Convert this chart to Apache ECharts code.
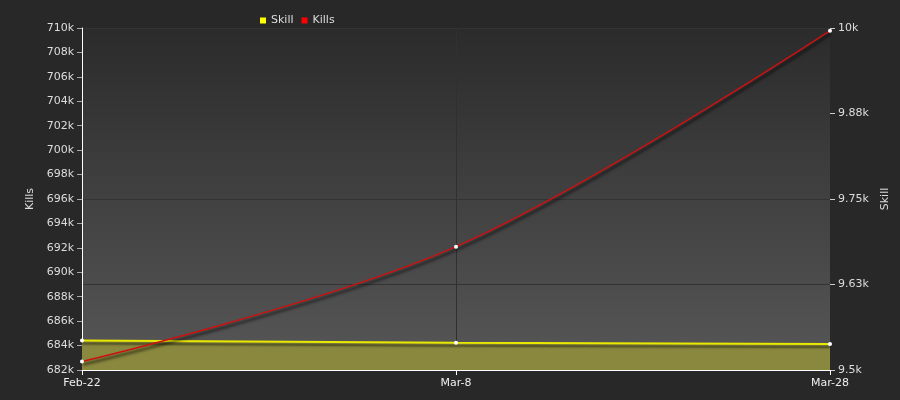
<!DOCTYPE html>
<html>
<head>
<meta charset="utf-8">
<script src="https://cdn.jsdelivr.net/npm/echarts@6/dist/echarts.min.js"></script>
<style>
  html, body { margin: 0; padding: 0; background: #282828; }
  #main { width: 900px; height: 400px; }
</style>
</head>
<body>
<div id="main"></div>
<script>
const dates = ['Feb-22', 'Mar-8', 'Mar-28']
const kills = [682700, 692100, 709780]
const skill = [9543, 9540, 9538]

const font = 'DejaVu Sans'
const chart = echarts.init(document.getElementById('main'))

const option = {
  backgroundColor: '#282828',
  textStyle: { fontFamily: font },
  legend: {
    left: 255,
    top: 10,
    itemWidth: 6,
    itemHeight: 6,
    itemGap: 8,
    icon: 'rect',
    textStyle: { color: '#ddd', fontSize: 11, fontFamily: font },
    data: [
      { name: 'Skill', itemStyle: { color: '#ffff00' } },
      { name: 'Kills', itemStyle: { color: '#ff0000' } }
    ]
  },
  grid: {
    left: 82, right: 70, top: 28, bottom: 30,
    show: true,
    borderWidth: 0,
    backgroundColor: new echarts.graphic.LinearGradient(0, 0, 0, 1, [
      { offset: 0, color: '#2b2b2b' },
      { offset: 1, color: '#575757' }
    ])
  },
  xAxis: {
    type: 'category',
    data: dates,
    boundaryGap: false,
    axisLine: { lineStyle: { color: '#fff', width: 1 } },
    axisTick: { length: 5, lineStyle: { color: '#fff' } },
    axisLabel: { color: '#eee', fontSize: 11, margin: 8 },
    splitLine: { show: true, interval: function (i) { return i === 1 }, lineStyle: { color: '#303030' } }
  },
  yAxis: [
    {
      type: 'value',
      name: 'Kills',
      nameLocation: 'middle',
      nameRotate: 90,
      nameGap: 46,
      nameTextStyle: { color: '#ddd', fontSize: 11 },
      min: 682000, max: 710000, interval: 2000,
      axisLine: { show: true, lineStyle: { color: '#fff' } },
      axisTick: { show: true, length: 5, lineStyle: { color: '#aaa' } },
      axisLabel: { color: '#ddd', fontSize: 11, margin: 8, formatter: v => (v / 1000) + 'k' },
      splitLine: { show: false }
    },
    {
      type: 'value',
      name: 'Skill',
      nameLocation: 'middle',
      nameRotate: 90,
      nameGap: 46,
      nameTextStyle: { color: '#ddd', fontSize: 11 },
      min: 9500, max: 10000, interval: 125,
      axisLine: { show: false },
      axisTick: { show: true, length: 5, lineStyle: { color: '#ccc' } },
      axisLabel: { color: '#ddd', fontSize: 11, margin: 8, formatter: v => (Math.round(v / 10) / 100) + 'k' },
      splitLine: { show: true, lineStyle: { color: '#333' } }
    }
  ],
  series: [
    {
      name: 'Skill',
      type: 'line',
      yAxisIndex: 1,
      data: skill,
      color: '#ffff00',
      symbol: 'circle',
      symbolSize: 4,
      itemStyle: { color: '#fff' },
      lineStyle: { color: '#e8e800', width: 2, shadowColor: 'rgba(0,0,0,0.5)', shadowBlur: 2, shadowOffsetY: 3 },
      areaStyle: { color: '#8a883e', opacity: 1 },
      z: 2
    },
    {
      name: 'Kills',
      type: 'line',
      yAxisIndex: 0,
      data: kills,
      color: '#ff0000',
      smooth: 0.35,
      symbol: 'circle',
      symbolSize: 4,
      itemStyle: { color: '#fff' },
      lineStyle: { color: '#cc1111', width: 1.5, shadowColor: 'rgba(0,0,0,0.85)', shadowBlur: 3, shadowOffsetY: 3, shadowOffsetX: 1 },
      z: 3
    }
  ]
}

chart.setOption(option)
</script>
</body>
</html>
